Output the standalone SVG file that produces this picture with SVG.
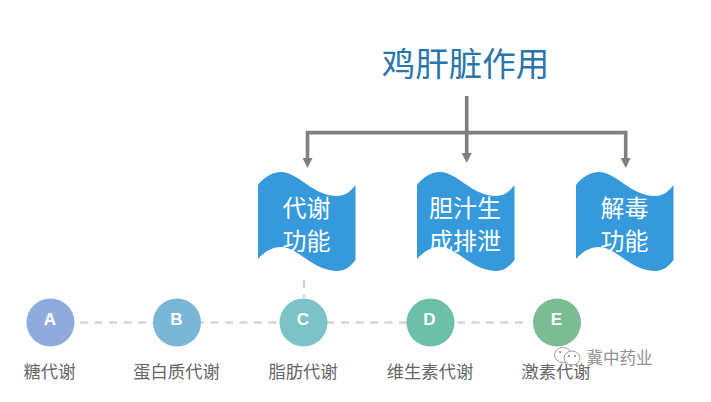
<svg xmlns="http://www.w3.org/2000/svg" width="711" height="402" viewBox="0 0 711 402">
  <style>
    text { font-family: "Noto Sans CJK SC", "Liberation Sans", sans-serif; text-anchor: middle; }
    .title { font-size: 33.5px; fill: #2a75ab; }
    .banner { fill: #3699dc; }
    .band { font-size: 24px; fill: #ffffff; }
    .dot-letter { font-family: "Liberation Sans", sans-serif; font-size: 17px; font-weight: 700; fill: #ffffff; }
    .caption { font-size: 17.3px; fill: #666666; }
    .trunk { fill: none; stroke: #7f7f7f; stroke-width: 3.6; }
    .dash { fill: none; stroke: #d6d6d6; stroke-width: 2.4; stroke-dasharray: 8 6.5; }
    .mark { font-size: 16.5px; fill: #909090; stroke: #ffffff; stroke-width: 1.6; paint-order: stroke; }
    .bubble { fill: #ffffff; stroke: #a0a0a0; stroke-width: 1; }
    .eye { fill: #8a8a8a; }
  </style>
  <defs>
    <path id="flag" d="M0 13C7 4 15 0 23 0C40 0 55 24 79 24C87 24 92 20 97.5 13V88C92 95 87 99 79 99C55 99 40 75 23 75C15 75 7 79 0 87Z"/>
    <marker id="head" markerUnits="userSpaceOnUse" markerWidth="11" markerHeight="11" refX="2" refY="5.5" orient="auto">
      <path d="M0 0.5L10 5.5L0 10.5Z" fill="#7f7f7f"/>
    </marker>
  </defs>

  <rect width="711" height="402" fill="#ffffff"/>

  <g id="connectors">
    <path class="trunk" d="M466.7 96V155" marker-end="url(#head)"/>
    <path class="trunk" d="M466.7 132.6H307.5V160" marker-end="url(#head)"/>
    <path class="trunk" d="M466.7 132.6H625.7V160" marker-end="url(#head)"/>
    <path class="dash" d="M80 322.5H530"/>
    <path class="dash" d="M304 280V298"/>
  </g>

  <g id="title"><text class="title" x="465.5" y="76">鸡肝脏作用</text></g>

  <g id="band-metabolism" transform="translate(258 172)">
    <use href="#flag" class="banner"/>
    <text class="band" x="48.5" y="45">代谢</text>
    <text class="band" x="48.5" y="78">功能</text>
  </g>
  <g id="band-bile" transform="translate(417 172)">
    <use href="#flag" class="banner"/>
    <text class="band" x="48" y="45">胆汁生</text>
    <text class="band" x="48" y="78">成排泄</text>
  </g>
  <g id="band-detox" transform="translate(576 172)">
    <use href="#flag" class="banner"/>
    <text class="band" x="48.5" y="45">解毒</text>
    <text class="band" x="48.5" y="78">功能</text>
  </g>

  <g id="step-a">
    <circle cx="50.5" cy="322.5" r="24" fill="#8faadc"/>
    <text class="dot-letter" x="50" y="325">A</text>
    <text class="caption" x="49.5" y="378">糖代谢</text>
  </g>
  <g id="step-b">
    <circle cx="177" cy="322.5" r="24" fill="#7ab6d5"/>
    <text class="dot-letter" x="176.5" y="325">B</text>
    <text class="caption" x="176.5" y="378">蛋白质代谢</text>
  </g>
  <g id="step-c">
    <circle cx="303.5" cy="322.5" r="24" fill="#7cc3c8"/>
    <text class="dot-letter" x="303" y="325">C</text>
    <text class="caption" x="303" y="378">脂肪代谢</text>
  </g>
  <g id="step-d">
    <circle cx="430.5" cy="322.5" r="24" fill="#6cc0a8"/>
    <text class="dot-letter" x="429.5" y="325">D</text>
    <text class="caption" x="430" y="378">维生素代谢</text>
  </g>
  <g id="step-e">
    <circle cx="557" cy="322.5" r="24" fill="#7cbc92"/>
    <text class="dot-letter" x="556.5" y="325">E</text>
    <text class="caption" x="556" y="378">激素代谢</text>
  </g>

  <g id="badge">
    <ellipse class="bubble" cx="563" cy="355" rx="8.5" ry="7.5"/>
    <ellipse class="bubble" cx="572" cy="358" rx="8" ry="7"/>
    <circle class="eye" cx="560" cy="352" r="1"/>
    <circle class="eye" cx="569" cy="356" r="1"/>
    <circle class="eye" cx="575" cy="356" r="1"/>
    <text class="mark" x="619.5" y="364">冀中药业</text>
  </g>
</svg>
